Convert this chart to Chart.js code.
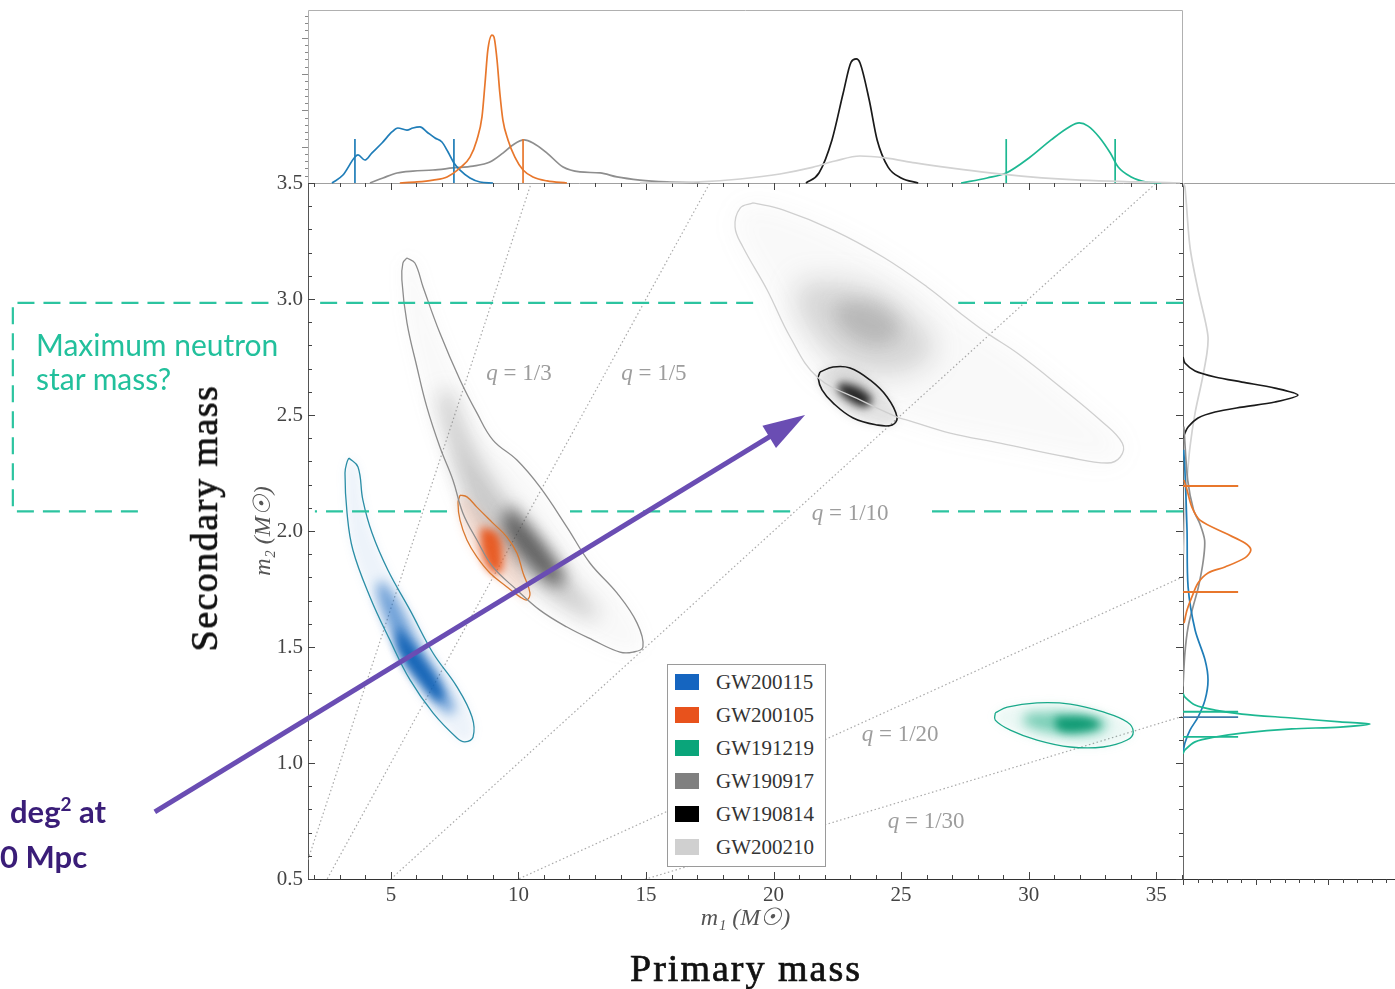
<!DOCTYPE html>
<html>
<head>
<meta charset="utf-8">
<script src="https://cdn.jsdelivr.net/npm/chart.js@4"></script>
<style>
  html, body { margin: 0; padding: 0; background: #fff; }
  body { width: 1395px; height: 989px; position: relative; overflow: hidden; }
  canvas { position: absolute; }
  #main { left: 0; top: 0; }
  #top  { left: 298px; top: 4px; }
  #side { left: 1183px; top: 183px; }
  .note { position: absolute; white-space: nowrap; }
  #nsNote { left: 36px; top: 327px; color: #22c09c; font: 30px/34px Lato, sans-serif; }
  #yBig { left: 204px; top: 518px; transform: translate(-50%, -50%) rotate(-90deg);
          font: 38px 'Liberation Serif', serif; letter-spacing: 1.5px; color: #111; -webkit-text-stroke: 0.7px #111; }
  #xBig { left: 746px; top: 968px; transform: translate(-50%, -50%);
          font: 38px 'Liberation Serif', serif; letter-spacing: 2px; color: #111; -webkit-text-stroke: 0.7px #111; }
  .purple { color: #3a1d78; font: bold 31px/31px Lato, sans-serif; }
  .purple sup { font-size: 19px; vertical-align: 12px; line-height: 0; }
  #deg { left: 10px; top: 796px; }
  #mpc { left: 0; top: 841px; }
  #legend { position: absolute; left: 667px; top: 664px; width: 159px; height: 203px;
            box-sizing: border-box; border: 1px solid #9a9a9a; background: #fff; }
  #legend .row { position: absolute; left: 0; height: 20px; width: 100%; }
  #legend .sw { position: absolute; left: 7px; top: 2px; width: 24px; height: 16px; }
  #legend .lab { position: absolute; left: 48px; top: -2px; font: 21px 'Liberation Serif', serif; color: #333; }
</style>
</head>
<body>
<canvas id="main" width="1395" height="989"></canvas>
<canvas id="top" width="885" height="185"></canvas>
<canvas id="side" width="212" height="710"></canvas>

<div class="note" id="nsNote">Maximum neutron<br>star mass?</div>
<div class="note" id="yBig">Secondary mass</div>
<div class="note" id="xBig">Primary mass</div>
<div class="note purple" id="deg">deg<sup>2</sup> at</div>
<div class="note purple" id="mpc">0 Mpc</div>
<div id="legend"></div>

<script>
/* ---- axes ---- */
const X_MIN = 1.75, X_MAX = 36.05;
const Y_MIN = 0.5,  Y_MAX = 3.5;
const X_TICKS = [5, 10, 15, 20, 25, 30, 35];
const Y_TICKS = [0.5, 1.0, 1.5, 2.0, 2.5, 3.0, 3.5];

/* ---- events ---- */
const EVENTS       = ['GW200115', 'GW200105', 'GW191219', 'GW190917', 'GW190814', 'GW200210'];
const SWATCH       = ['#1565c0', '#e8521c', '#0aa57a', '#808080', '#000000', '#d0d0d0'];
const LINE_COLORS  = ['#2b8ea6', '#d9782f', '#19a98a', '#8c8c8c', '#1a1a1a', '#cfcfcf'];
const CURVE_COLORS = ['#1f7db8', '#e8772c', '#1db892', '#8e8e8e', '#1a1a1a', '#d2d2d2'];

/* ---- 90% contours (m1, m2) ---- */
const CONTOUR_GW200115 = [[3.35,2.315],[3.71,2.276],[3.90,2.134],[4.26,1.991],[4.88,1.832],[5.75,1.659],[6.65,1.474],[7.59,1.328],[8.18,1.198],[8.22,1.112],[7.90,1.091],[7.59,1.108],[6.65,1.216],[5.75,1.358],[4.96,1.530],[4.18,1.716],[3.51,1.918],[3.28,2.078],[3.20,2.250],[3.28,2.297]];
const CONTOUR_GW200105 = [[7.71,2.155],[7.98,2.147],[8.37,2.103],[9.00,2.034],[9.55,1.974],[9.94,1.905],[10.18,1.819],[10.45,1.733],[10.33,1.703],[10.06,1.716],[9.55,1.759],[8.88,1.819],[8.37,1.888],[7.98,1.961],[7.71,2.047],[7.63,2.121]];
const CONTOUR_GW191219 = [[28.69,1.216],[29.16,1.241],[30.33,1.259],[31.63,1.254],[32.92,1.220],[33.86,1.177],[34.10,1.134],[33.86,1.099],[32.92,1.069],[31.63,1.069],[30.33,1.099],[29.28,1.142],[28.69,1.185]];
const CONTOUR_GW190917 = [[5.63,3.177],[5.94,3.155],[6.26,3.052],[6.92,2.853],[7.71,2.651],[8.37,2.509],[9.00,2.392],[9.94,2.306],[10.84,2.190],[11.90,2.017],[12.80,1.862],[13.86,1.733],[14.65,1.603],[14.88,1.500],[14.49,1.478],[13.98,1.478],[12.92,1.530],[11.90,1.586],[10.84,1.659],[9.94,1.746],[9.00,1.845],[8.37,1.961],[7.82,2.078],[7.43,2.220],[6.92,2.362],[6.41,2.534],[6.02,2.707],[5.63,2.897],[5.43,3.082],[5.47,3.155]];
const CONTOUR_GW190814 = [[21.82,2.685],[22.33,2.707],[23.00,2.703],[23.78,2.651],[24.45,2.578],[24.84,2.491],[24.65,2.457],[24.06,2.457],[23.12,2.487],[22.33,2.552],[21.90,2.608],[21.75,2.659]];
const CONTOUR_GW200210 = [[19.20,3.414],[20.37,3.384],[22.33,3.297],[24.29,3.181],[26.02,3.052],[27.31,2.940],[28.37,2.853],[29.55,2.767],[31.24,2.621],[32.80,2.478],[33.67,2.379],[33.59,2.319],[33.08,2.293],[31.51,2.319],[28.88,2.379],[26.92,2.422],[25.24,2.478],[24.84,2.491],[23.39,2.565],[21.71,2.664],[20.65,2.836],[19.75,3.039],[18.80,3.224],[18.49,3.310],[18.69,3.392]];

/* ---- density shading: mid and core regions ---- */
const SHADE_GW200115 = [[4.65,1.789],[5.24,1.703],[6.02,1.530],[7.04,1.345],[7.51,1.228],[7.20,1.216],[6.26,1.328],[5.35,1.487],[4.69,1.647],[4.45,1.759]];
const CORE_GW200115  = [[5.24,1.595],[6.14,1.466],[7.00,1.315],[6.92,1.263],[6.06,1.358],[5.28,1.487]];
const CORE_GW200105  = [[8.49,2.017],[9.16,1.991],[9.39,1.888],[9.28,1.819],[8.88,1.832],[8.57,1.905]];
const SHADE_GW191219 = [[29.94,1.216],[31.75,1.216],[33.08,1.177],[32.69,1.129],[30.96,1.129],[29.78,1.172]];
const CORE_GW191219  = [[31.04,1.198],[32.22,1.198],[32.80,1.168],[32.22,1.138],[31.16,1.142]];
const SHADE_GW190917 = [[7.31,2.608],[8.22,2.362],[9.55,2.134],[11.35,1.875],[12.92,1.672],[13.20,1.629],[12.69,1.629],[10.96,1.746],[9.28,1.918],[7.98,2.134],[7.20,2.422],[6.92,2.595]];
const CORE_GW190917  = [[9.67,2.112],[11.04,1.940],[11.82,1.789],[11.43,1.767],[10.26,1.875],[9.39,2.026]];
const CORE_GW190814  = [[22.61,2.642],[23.39,2.616],[23.86,2.565],[23.59,2.534],[22.92,2.565],[22.53,2.608]];
const SHADE_GW200210 = [[21.04,3.082],[23.67,3.052],[25.63,2.909],[26.26,2.767],[24.96,2.681],[23.00,2.707],[21.71,2.823],[20.92,2.966]];
const CORE_GW200210  = [[22.61,2.996],[24.18,2.974],[24.96,2.866],[24.18,2.802],[23.00,2.845],[22.41,2.931]];

/* ---- marginal m1 (top) : (m1, density) ---- */
const TOP_GW200115 = [[2.69,0],[3.12,0.046],[3.59,0.150],[3.71,0.162],[3.98,0.133],[4.25,0.173],[4.65,0.231],[5.04,0.295],[5.27,0.318],[5.63,0.306],[5.86,0.318],[6.14,0.324],[6.41,0.295],[6.73,0.260],[7.00,0.237],[7.24,0.179],[7.47,0.116],[7.71,0.075],[8.10,0.029],[8.49,0.006],[9.00,0]];
const TOP_GW200105 = [[5.35,0],[6.02,0.006],[6.65,0.017],[7.20,0.035],[7.71,0.087],[8.10,0.150],[8.37,0.249],[8.57,0.382],[8.69,0.578],[8.80,0.769],[8.96,0.855],[9.04,0.844],[9.16,0.711],[9.27,0.520],[9.39,0.364],[9.59,0.249],[9.86,0.150],[10.18,0.075],[10.57,0.035],[11.12,0.012],[11.90,0]];
const TOP_GW191219 = [[27.35,0],[28.37,0.029],[29.12,0.058],[30.06,0.150],[30.88,0.249],[31.59,0.324],[31.98,0.347],[32.33,0.329],[32.76,0.266],[33.20,0.173],[33.51,0.092],[34.02,0.035],[34.61,0.006],[35.20,0]];
const TOP_GW190917 = [[4.18,0],[4.69,0.029],[5.24,0.058],[5.86,0.069],[6.65,0.075],[7.43,0.087],[8.22,0.098],[8.88,0.121],[9.39,0.173],[9.78,0.220],[10.22,0.249],[10.57,0.231],[11.12,0.173],[11.75,0.092],[12.41,0.064],[13.20,0.058],[13.86,0.035],[14.76,0.017],[15.82,0.006],[17.10,0]];
const TOP_GW190814 = [[21.27,0],[21.78,0.058],[22.29,0.249],[22.73,0.520],[23.04,0.699],[23.24,0.717],[23.39,0.694],[23.75,0.480],[24.06,0.249],[24.49,0.092],[25.00,0.029],[25.67,0]];
const TOP_GW200210 = [[14.76,0],[17.12,0.006],[18.69,0.023],[20.25,0.052],[21.43,0.087],[22.41,0.127],[23.39,0.156],[24.37,0.145],[25.55,0.116],[26.92,0.087],[28.49,0.058],[30.06,0.035],[32.02,0.017],[34.37,0.006],[35.94,0]];
const TOP_MARKS = [[3.59, 7.47], [10.18], [29.12, 33.39], [], [], []];
const TOP_MARK_H = 0.254;

/* ---- marginal m2 (right) : (density, m2) ---- */
const SIDE_GW200115 = [[0.003,2.35],[0.009,2.263],[0.019,2.004],[0.024,1.759],[0.057,1.573],[0.104,1.444],[0.118,1.358],[0.104,1.272],[0.071,1.198],[0.033,1.142],[0.009,1.086],[0,1.043]];
const SIDE_GW200105 = [[0.005,2.22],[0.019,2.177],[0.042,2.103],[0.080,2.047],[0.198,1.991],[0.292,1.948],[0.320,1.918],[0.292,1.884],[0.198,1.845],[0.118,1.819],[0.071,1.776],[0.042,1.716],[0.019,1.659],[0.005,1.603]];
const SIDE_GW191219 = [[0,1.30],[0.009,1.284],[0.057,1.250],[0.151,1.228],[0.278,1.211],[0.514,1.194],[0.741,1.177],[0.882,1.168],[0.741,1.155],[0.514,1.147],[0.278,1.129],[0.151,1.112],[0.057,1.091],[0.009,1.056],[0,1.04]];
const SIDE_GW190917 = [[0.004,2.45],[0.022,2.22],[0.050,2.09],[0.080,2.03],[0.102,1.96],[0.096,1.875],[0.073,1.76],[0.047,1.672],[0.024,1.586],[0.009,1.474],[0,1.33]];
const SIDE_GW190814 = [[0,2.75],[0.009,2.724],[0.057,2.690],[0.151,2.664],[0.278,2.642],[0.434,2.616],[0.542,2.586],[0.434,2.556],[0.278,2.534],[0.151,2.513],[0.071,2.487],[0.024,2.448],[0.009,2.422],[0,2.40]];
const SIDE_GW200210 = [[0,3.5],[0.009,3.483],[0.033,3.224],[0.071,3.039],[0.104,2.909],[0.118,2.836],[0.113,2.767],[0.090,2.651],[0.057,2.509],[0.033,2.362],[0.019,2.220],[0.009,2.078],[0.003,1.90]];
const SIDE_MARKS = [[2.194, 1.198], [2.194, 1.737], [1.221, 1.113], [], [], []];
const SIDE_MARK_COLORS = ['#3d7aa8', '#e8772c', '#1db892'];
const SIDE_MARK_LEN = 0.26;

/* ---- mass-ratio lines ---- */
const Q_VALUES = [1/3, 1/5, 1/10, 1/20, 1/30];
const Q_LABELS = ['1/3', '1/5', '1/10', '1/20', '1/30'];
const Q_LABEL_POS = [[10.02, 2.677], [15.31, 2.677], [23.0, 2.073], [24.96, 1.121], [25.98, 0.746]];

/* ---- neutron-star mass band (dashed) ---- */
const NS_UPPER = 2.983, NS_LOWER = 2.085;
const NS_UPPER_SEGMENTS = [[2.2, 19.2], [27.24, 36.05]];
const NS_LOWER_SEGMENTS = [[2.02, 7.2], [12.02, 20.65], [26.14, 36.05]];
const NS_BRACKET = [[0.2, NS_UPPER], [-9.82, NS_UPPER], [-9.82, NS_LOWER], [-4.84, NS_LOWER]];

/* ---- arrow annotation ---- */
const ARROW_FROM = [-4.255, 0.789];
const ARROW_TO   = [21.235, 2.5];

Chart.defaults.font.family = "'Liberation Serif', serif";

const xy = pts => pts.map(([x, y]) => ({ x, y }));
const closed = pts => xy([...pts, pts[0]]);

/* ---- main panel datasets ---- */
const mainSets = [];

Q_VALUES.forEach(q => mainSets.push({
  data: [{ x: X_MIN, y: q * X_MIN }, { x: X_MAX, y: q * X_MAX }],
  showLine: true, borderColor: '#a9a9a9', borderWidth: 1.2, borderDash: [1.5, 2.5],
  pointRadius: 0, order: 95
}));

function blob(pts, color, blur, order) {
  mainSets.push({
    data: closed(pts), showLine: true, tension: 0.4, pointRadius: 0,
    borderColor: 'rgba(0,0,0,0)', borderWidth: 1,
    blobColor: color, blobBlur: blur, order
  });
}
// light gray GW200210 + black GW190814
blob(CONTOUR_GW200210, 'rgba(140,140,140,0.05)', 12, 80);
blob(SHADE_GW200210,   'rgba(120,120,120,0.28)', 14, 79);
blob(CORE_GW200210,    'rgba(100,100,100,0.25)', 9, 78);
blob(CONTOUR_GW190814, 'rgba(70,70,70,0.14)', 4, 77);
blob(CORE_GW190814,    'rgba(15,15,15,0.9)', 4, 76);
// gray GW190917 + orange GW200105
blob(CONTOUR_GW190917, 'rgba(130,130,130,0.05)', 8, 75);
blob(SHADE_GW190917,   'rgba(110,110,110,0.35)', 10, 74);
blob(CORE_GW190917,    'rgba(50,50,50,0.7)', 8, 73);
blob(CONTOUR_GW200105, 'rgba(232,90,30,0.14)', 4, 72);
blob(CORE_GW200105,    'rgba(232,80,20,0.9)', 4, 71);
// blue GW200115
blob(CONTOUR_GW200115, 'rgba(21,101,192,0.08)', 5, 70);
blob(SHADE_GW200115,   'rgba(21,101,192,0.58)', 6, 69);
blob(CORE_GW200115,    'rgba(13,95,180,0.9)', 5, 68);
// green GW191219
blob(CONTOUR_GW191219, 'rgba(10,165,122,0.08)', 4, 67);
blob(SHADE_GW191219,   'rgba(10,165,122,0.5)', 6, 66);
blob(CORE_GW191219,    'rgba(5,150,110,0.9)', 4, 65);

const CONTOURS = [CONTOUR_GW200115, CONTOUR_GW200105, CONTOUR_GW191219, CONTOUR_GW190917, CONTOUR_GW190814, CONTOUR_GW200210];
CONTOURS.forEach((c, i) => mainSets.push({
  data: closed(c), showLine: true, tension: 0.4, pointRadius: 0,
  borderColor: LINE_COLORS[i], borderWidth: i === 4 ? 1.6 : 1.3, order: 20 + (6 - i)
}));

const teal = { showLine: true, borderColor: '#2cc4a0', borderWidth: 2.2, borderDash: [17, 9], pointRadius: 0, clip: false, order: 5 };
NS_UPPER_SEGMENTS.forEach(([a, b]) => mainSets.push({ ...teal, data: [{ x: b, y: NS_UPPER }, { x: a, y: NS_UPPER }] }));
NS_LOWER_SEGMENTS.forEach(([a, b]) => mainSets.push({ ...teal, data: [{ x: b, y: NS_LOWER }, { x: a, y: NS_LOWER }] }));
mainSets.push({ ...teal, data: xy(NS_BRACKET) });

/* ---- plugins ---- */
const blobPlugin = {
  id: 'blobs',
  beforeDatasetDraw(chart, args) {
    const ds = chart.data.datasets[args.index];
    const line = args.meta.dataset;
    if (!ds.blobColor || !line) return;
    const { ctx, chartArea: a } = chart;
    line.updateControlPoints(a, 'x');
    ctx.save();
    ctx.beginPath();
    ctx.rect(a.left, a.top, a.right - a.left, a.bottom - a.top);
    ctx.clip();
    ctx.filter = `blur(${ds.blobBlur}px)`;
    ctx.beginPath();
    line.path(ctx);
    ctx.closePath();
    ctx.fillStyle = ds.blobColor;
    ctx.fill();
    ctx.restore();
  }
};

function seg(ctx, x1, y1, x2, y2) {
  ctx.beginPath(); ctx.moveTo(x1, y1); ctx.lineTo(x2, y2); ctx.stroke();
}

const mainFrame = {
  id: 'mainFrame',
  afterDatasetsDraw(chart) {
    const { ctx, chartArea: a, scales: { x, y } } = chart;
    ctx.save();
    ctx.lineWidth = 1;
    ctx.strokeStyle = '#a0a0a0';
    seg(ctx, a.left, a.top + 0.5, chart.width, a.top + 0.5);
    ctx.strokeStyle = '#666';
    seg(ctx, a.right + 0.5, a.top, a.right + 0.5, a.bottom);
    ctx.strokeStyle = '#333';
    seg(ctx, a.right, a.bottom + 0.5, chart.width, a.bottom + 0.5);

    // inward ticks, all four sides
    ctx.strokeStyle = '#444';
    for (let v = Math.ceil(X_MIN); v <= X_MAX; v++) {
      const px = Math.round(x.getPixelForValue(v)) + 0.5;
      const len = v % 5 === 0 ? 7 : 4;
      seg(ctx, px, a.bottom, px, a.bottom - len);
      seg(ctx, px, a.top, px, a.top + len);
    }
    for (let k = 5; k <= 35; k++) {
      const py = Math.round(y.getPixelForValue(k / 10)) + 0.5;
      const len = k % 5 === 0 ? 7 : 4;
      seg(ctx, a.left, py, a.left + len, py);
      seg(ctx, a.right, py, a.right - len, py);
    }

    // q labels
    ctx.fillStyle = '#9d9d9d';
    ctx.textBaseline = 'middle';
    const italic = "italic 23px 'Liberation Serif'", roman = "23px 'Liberation Serif'";
    Q_LABELS.forEach((lab, i) => {
      const cx = x.getPixelForValue(Q_LABEL_POS[i][0]);
      const cy = y.getPixelForValue(Q_LABEL_POS[i][1]);
      const rest = ' = ' + lab;
      ctx.font = italic; const w1 = ctx.measureText('q').width;
      ctx.font = roman;  const w2 = ctx.measureText(rest).width;
      const x0 = cx - (w1 + w2) / 2;
      ctx.font = italic; ctx.fillText('q', x0, cy);
      ctx.font = roman;  ctx.fillText(rest, x0 + w1, cy);
    });
    ctx.restore();
  },
  afterDraw(chart) {
    const { ctx, scales: { x, y } } = chart;
    const x1 = x.getPixelForValue(ARROW_FROM[0]), y1 = y.getPixelForValue(ARROW_FROM[1]);
    const x2 = x.getPixelForValue(ARROW_TO[0]),   y2 = y.getPixelForValue(ARROW_TO[1]);
    const L = Math.hypot(x2 - x1, y2 - y1), dx = (x2 - x1) / L, dy = (y2 - y1) / L;
    const head = 42, half = 13;
    const bx = x2 - dx * head, by = y2 - dy * head;
    ctx.save();
    ctx.strokeStyle = ctx.fillStyle = '#6a4db3';
    ctx.lineWidth = 5;
    seg(ctx, x1, y1, bx + dx * 4, by + dy * 4);
    ctx.beginPath();
    ctx.moveTo(x2, y2);
    ctx.lineTo(bx - dy * half, by + dx * half);
    ctx.lineTo(bx + dy * half, by - dx * half);
    ctx.closePath();
    ctx.fill();
    ctx.restore();
  }
};

new Chart(document.getElementById('main'), {
  type: 'scatter',
  data: { datasets: mainSets },
  options: {
    responsive: false, animation: false, events: [],
    layout: { padding: { left: 242, right: 212, top: 183, bottom: 50 } },
    plugins: { legend: { display: false }, tooltip: { enabled: false } },
    scales: {
      x: {
        type: 'linear', min: X_MIN, max: X_MAX,
        afterBuildTicks: s => { s.ticks = X_TICKS.map(value => ({ value })); },
        afterFit: s => { s.height = 60; },
        grid: { display: false, drawTicks: false },
        border: { display: true, color: '#333', width: 1 },
        ticks: { color: '#444', font: { size: 21 }, padding: 4, maxRotation: 0, autoSkip: false, callback: v => String(v) },
        title: { display: true, text: 'm₁ (M☉)', color: '#555', font: { size: 24, style: 'italic' }, padding: { top: 0, bottom: 6 } }
      },
      y: {
        type: 'linear', min: Y_MIN, max: Y_MAX,
        afterBuildTicks: s => { s.ticks = Y_TICKS.map(value => ({ value })); },
        afterFit: s => { s.width = 66; },
        grid: { display: false, drawTicks: false },
        border: { display: true, color: '#555', width: 1 },
        ticks: { color: '#444', font: { size: 21 }, padding: 5, autoSkip: false, callback: v => v.toFixed(1) },
        title: { display: true, text: 'm₂ (M☉)', color: '#555', font: { size: 24, style: 'italic' }, padding: { top: 7, bottom: 0 } }
      }
    }
  },
  plugins: [blobPlugin, mainFrame]
});

/* ---- top marginal ---- */
const TOPS = [TOP_GW200115, TOP_GW200105, TOP_GW191219, TOP_GW190917, TOP_GW190814, TOP_GW200210];
const TOP_ORDER = [3, 2, 4, 5, 1, 0]; // lower = drawn on top
const topSets = [];
TOPS.forEach((c, i) => {
  topSets.push({
    data: xy(c), showLine: true, cubicInterpolationMode: 'monotone', pointRadius: 0,
    borderColor: CURVE_COLORS[i], borderWidth: 1.7, clip: false, order: TOP_ORDER[i] * 2
  });
  TOP_MARKS[i].forEach(m => topSets.push({
    data: [{ x: m, y: 0 }, { x: m, y: TOP_MARK_H }], showLine: true, pointRadius: 0,
    borderColor: CURVE_COLORS[i], borderWidth: 1.7, clip: false, order: TOP_ORDER[i] * 2 - 1
  }));
});

const topFrame = {
  id: 'topFrame',
  beforeDatasetsDraw(chart) {
    const { ctx, chartArea: a } = chart;
    ctx.save();
    ctx.lineWidth = 1;
    ctx.strokeStyle = '#b0b0b0';
    ctx.beginPath();
    ctx.moveTo(a.left + 0.5, a.bottom);
    ctx.lineTo(a.left + 0.5, a.top + 0.5);
    ctx.lineTo(a.right - 0.5, a.top + 0.5);
    ctx.lineTo(a.right - 0.5, a.bottom);
    ctx.stroke();
    ctx.strokeStyle = '#888';
    for (let k = 1; k * 0.042 < 1; k++) {
      const py = Math.round(chart.scales.y.getPixelForValue(k * 0.042)) + 0.5;
      seg(ctx, a.left, py, a.left - (k % 5 === 0 ? 6 : 3), py);
    }
    ctx.restore();
  }
};

new Chart(document.getElementById('top'), {
  type: 'scatter',
  data: { datasets: topSets },
  options: {
    responsive: false, animation: false, events: [],
    layout: { padding: { left: 10, right: 0, top: 6, bottom: 6 } },
    plugins: { legend: { display: false }, tooltip: { enabled: false } },
    scales: {
      x: { display: false, min: X_MIN, max: X_MAX },
      y: { display: false, min: 0, max: 1 }
    }
  },
  plugins: [topFrame]
});

/* ---- right marginal ---- */
const SIDES = [SIDE_GW200115, SIDE_GW200105, SIDE_GW191219, SIDE_GW190917, SIDE_GW190814, SIDE_GW200210];
const SIDE_ORDER = [3, 2, 1, 4, 5, 6];
const sideSets = [];
SIDES.forEach((c, i) => {
  sideSets.push({
    data: xy(c), showLine: true, tension: 0.3, pointRadius: 0,
    borderColor: CURVE_COLORS[i], borderWidth: 1.7, clip: false, order: SIDE_ORDER[i] * 2
  });
  SIDE_MARKS[i].forEach(m => sideSets.push({
    data: [{ x: 0, y: m }, { x: SIDE_MARK_LEN, y: m }], showLine: true, pointRadius: 0,
    borderColor: SIDE_MARK_COLORS[i], borderWidth: 1.8, clip: false, order: SIDE_ORDER[i] * 2 - 1
  }));
});

const sideFrame = {
  id: 'sideFrame',
  afterDraw(chart) {
    const { ctx, chartArea: a, scales: { x } } = chart;
    ctx.save();
    ctx.strokeStyle = '#444';
    ctx.lineWidth = 1;
    for (let k = 0; k * 0.0684 <= 1; k++) {
      const px = Math.round(x.getPixelForValue(k * 0.0684)) + 0.5;
      seg(ctx, px, a.bottom, px, a.bottom + (k % 5 === 0 ? 6 : 4));
    }
    ctx.restore();
  }
};

new Chart(document.getElementById('side'), {
  type: 'scatter',
  data: { datasets: sideSets },
  options: {
    responsive: false, animation: false, events: [],
    layout: { padding: { left: 0, right: 0, top: 0, bottom: 14 } },
    plugins: { legend: { display: false }, tooltip: { enabled: false } },
    scales: {
      x: { display: false, min: 0, max: 1 },
      y: { display: false, min: Y_MIN, max: Y_MAX }
    }
  },
  plugins: [sideFrame]
});

/* ---- legend ---- */
const legend = document.getElementById('legend');
EVENTS.forEach((name, i) => {
  const row = document.createElement('div');
  row.className = 'row';
  row.style.top = (7 + i * 33) + 'px';
  row.innerHTML = `<div class="sw" style="background:${SWATCH[i]}"></div><div class="lab">${name}</div>`;
  legend.appendChild(row);
});
</script>
</body>
</html>
